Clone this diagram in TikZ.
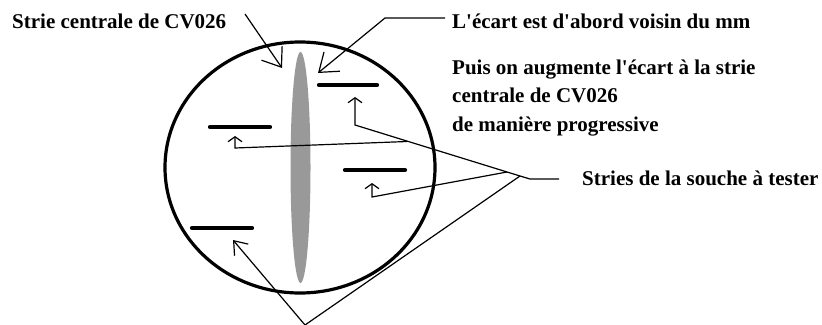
\documentclass[tikz,border=0pt]{standalone}
\usepackage{fontspec}
\setmainfont{Liberation Serif}[Ligatures=TeXOff]
\usetikzlibrary{arrows.meta}
\tikzset{
  lbl/.style={inner sep=0pt, font=\fontsize{21}{28.5}\selectfont\bfseries, align=left},
  conn/.style={line width=1.2pt, line join=miter},
  bigarrow/.style={conn, -{Straight Barb[length=17pt,width=25pt,line width=1.2pt]}},
  smallarrow/.style={conn, -{Straight Barb[length=5pt,width=14pt,line width=1.2pt]}},
  bar/.style={line width=4.2pt, line cap=round},
}
\begin{document}
\begin{tikzpicture}[x=1pt,y=-1pt]
\useasboundingbox (0,0) rectangle (822,324);
\clip (0,0) rectangle (822,324);
% field of view
\draw[line width=3.2pt] (300,167.5) ellipse [x radius=135pt, y radius=125.5pt];
% central stria
\fill[black!40] (300.5,167.5) ellipse [x radius=10pt, y radius=115.5pt];
% strias to test
\draw[bar] (319,85) -- (377,85);
\draw[bar] (210,127) -- (270,127);
\draw[bar] (345,170) -- (405,170);
\draw[bar] (192,228) -- (252,228);
% texts
\node[lbl, anchor=base west] (tcentral) at (12,28) {Strie centrale de CV026};
\node[lbl, anchor=base west] (tecart) at (452,28) {L'écart est d'abord voisin du mm};
\node[lbl, anchor=base west] (tpuis) at (452,131) {Puis on augmente l'écart à la strie\\centrale de CV026\\de manière progressive};
\node[lbl, anchor=base west] (tstries) at (582,185) {Stries de la souche à tester};
% coordinates
\coordinate (c1s) at (245,14);
\coordinate (c1t) at (282,68);
\coordinate (c2s) at (445,18);
\coordinate (c2k) at (385,18);
\coordinate (c2t) at (318,73);
\coordinate (hub) at (520,176);
\coordinate (hubb) at (530,179);
\coordinate (hube) at (559,179);
\coordinate (b1) at (355,125);
\coordinate (t1) at (355,97);
\coordinate (m2) at (507,172);
\coordinate (b2) at (372,197);
\coordinate (t2) at (372,183);
\coordinate (m3) at (407,141.5);
\coordinate (b3) at (235,148);
\coordinate (t3) at (235,136);
\coordinate (v) at (305,325);
\coordinate (t4) at (233,240);
% top arrows
\draw[bigarrow] (c1s) -- (c1t);
\draw[bigarrow] (c2s) -- (c2k) -- (c2t);
% pointer tree
\draw[conn] (hube) -- (hubb) -- (hub);
\draw[smallarrow] (hub) -- (b1) -- (t1);
\draw[smallarrow] (m2) -- (b2) -- (t2);
\draw[smallarrow] (m3) -- (b3) -- (t3);
\draw[conn, -{Straight Barb[length=12pt,width=18pt,line width=1.2pt]}] (hub) -- (v) -- (t4);
\end{tikzpicture}
\end{document}
